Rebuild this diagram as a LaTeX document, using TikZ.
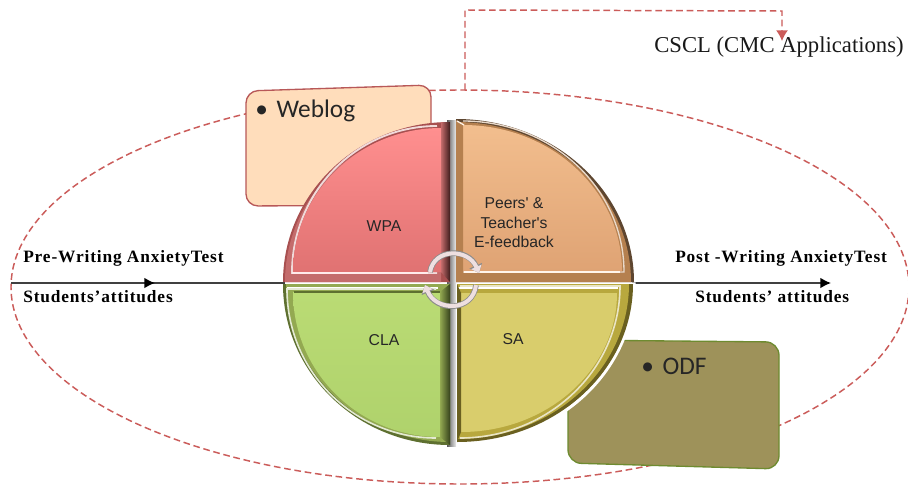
\documentclass[tikz,border=0pt]{standalone}
\usepackage{fontspec}
\setmainfont{Liberation Serif}
\newfontfamily\notef[LetterSpace=5]{Liberation Serif}
\newfontfamily\sansf{Liberation Sans}
\newfontfamily\calibri{Carlito}
\usetikzlibrary{arrows.meta,calc}
\definecolor{dashred}{HTML}{CB5C5A}
\definecolor{webfill}{HTML}{FFDDBB}
\definecolor{webedge}{HTML}{B85858}
\definecolor{odffill}{HTML}{9E925A}
\definecolor{odfedge}{HTML}{6E8B30}
\definecolor{rotfill}{HTML}{EEDFE0}
\definecolor{wpaouter}{HTML}{A85050}
\definecolor{wparim}{HTML}{C46C6C}
\definecolor{wpatop}{HTML}{FF8F8F}
\definecolor{wpabot}{HTML}{E07272}
\definecolor{wpadark}{HTML}{3E1C1C}
\definecolor{peerouter}{HTML}{5E4630}
\definecolor{peerrim}{HTML}{B5804F}
\definecolor{peertop}{HTML}{F2BE8E}
\definecolor{peerbot}{HTML}{DFA374}
\definecolor{claouter}{HTML}{5E7030}
\definecolor{clarim}{HTML}{93A951}
\definecolor{clatop}{HTML}{BADB74}
\definecolor{clabot}{HTML}{AFD26C}
\definecolor{cladark}{HTML}{36421C}
\definecolor{saouter}{HTML}{6A6020}
\definecolor{sarim}{HTML}{B8A83E}
\definecolor{saface}{HTML}{D9CD6C}
\tikzset{
 x=0.75pt,y=-0.75pt,
 dashline/.style={draw=dashred,line width=1.1pt,dash pattern=on 5pt off 2.8pt},
 note/.style={font=\notef\bfseries\fontsize{13}{15}\selectfont,inner sep=0pt,anchor=west},
 quadlabel/.style={font=\sansf\fontsize{11.8}{14.6}\selectfont,align=center,inner sep=0pt,text=black!85},
 tag/.style={font=\calibri\fontsize{19}{22}\selectfont,inner sep=0pt,anchor=west,text=black!85},
 axisline/.style={draw=black!75,line width=1.1pt},
 axisarrow/.style={axisline,-{Latex[length=8pt,width=8pt,black]}},
}
% corner x, corner y, rx, ry, sx, sy
\def\qpath#1#2#3#4#5#6{({#1},{#2}) -- ({#1+(#5)*(#3)},{#2}) .. controls ({#1+(#5)*(#3)},{#2+(#6)*0.5523*(#4)}) and ({#1+(#5)*0.5523*(#3)},{#2+(#6)*(#4)}) .. ({#1},{#2+(#6)*(#4)}) -- cycle}
\def\qarc#1#2#3#4#5#6{({#1},{#2}) -- ({#1+(#5)*(#3)},{#2}) .. controls ({#1+(#5)*(#3)},{#2+(#6)*0.5523*(#4)}) and ({#1+(#5)*0.5523*(#3)},{#2+(#6)*(#4)}) .. ({#1},{#2+(#6)*(#4)})}
\begin{document}
\begin{tikzpicture}
\useasboundingbox (0,0) rectangle (908,486);
\fill[white] (0,0) rectangle (908,486);
% dashed ellipse and connector
\draw[dashline] (460,287) ellipse[x radius=449*0.75pt,y radius=197*0.75pt];
\coordinate (top) at (465,90);
\coordinate (cornerA) at (465,10);
\coordinate (cornerB) at (782,11);
\coordinate (arrowend) at (782,41);
\draw[dashline,-{Latex[length=8pt,width=9pt,dashred]}] (top) -- (cornerA) -- (cornerB) -- (arrowend);
% label boxes
\draw[draw=webedge,line width=1pt,fill=webfill,rounded corners=9pt] (246,91) -- (431,85) -- (431,205) -- (246,206) -- cycle;
\draw[draw=odfedge,line width=1pt,fill=odffill,rounded corners=10pt] (568,340) -- (779,342) -- (779,469) -- (568,463) -- cycle;
% axis
\coordinate (leftstart) at (11,283);
\coordinate (leftmid) at (155,283);
\coordinate (leftend) at (285,283);
\coordinate (rightstart) at (632,283);
\coordinate (rightend) at (831,283);
\draw[axisline] (leftstart) -- (leftend);
\draw[axisarrow] (leftstart) -- (leftmid);
\draw[axisarrow] (rightstart) -- (rightend);
% centre gap
\shade[left color=black!65,right color=white!92!black] (447,120) rectangle (456,446);
% halo under the disc
\draw[white,line width=2.5pt] \qarc{457}{284}{177}{160}{1}{1};
% ---- WPA
\fill[wpaouter] \qpath{450}{282}{167}{160}{-1}{-1};
\fill[wparim] \qpath{441}{282}{156}{153}{-1}{-1};
\draw[white!75!wparim,line width=1.4pt] \qarc{437}{273}{145}{147}{-1}{-1};
\shade[top color=wpatop,bottom color=wpabot] \qpath{441}{272}{148}{144}{-1}{-1};
\shade[left color=wparim,right color=wpadark] (441,122) -- (450,122) -- (450,282) -- (441,272) -- cycle;
\draw[white!92!red,line width=1.2pt] (292,273) -- (428,273);
% ---- Peers
\fill[peerouter] \qpath{456}{282}{178}{163}{1}{-1};
\fill[peerrim] \qpath{456}{282}{175}{160}{1}{-1};
\draw[white!70!peerrim,line width=1pt] \qarc{463}{272}{161}{151}{1}{-1};
\shade[top color=peertop,bottom color=peerbot] \qpath{463}{271}{159}{146}{1}{-1};
\fill[peerrim] (456,120) -- (463,125) -- (463,271) -- (456,282) -- cycle;
\draw[white!92!orange,line width=1.2pt] (464,272) -- (620,272);
\draw[white!90!orange,line width=1pt] (457,121) -- (464,125);
% ---- CLA
\fill[claouter] \qpath{450}{284}{167}{161}{-1}{1};
\fill[clarim] \qpath{450}{284}{164}{158}{-1}{1};
\draw[white,line width=1pt] (287,288) -- (438,288);
\draw[white!75!clarim,line width=1.2pt] \qarc{436}{289}{149}{149}{-1}{1};
\shade[top color=clatop,bottom color=clabot] \qpath{440}{292}{147}{145}{-1}{1};
\shade[left color=clarim,right color=cladark] (440,292) -- (450,284) -- (450,445) -- (440,437) -- cycle;
\draw[claouter,line width=1pt] (294,292) -- (440,292);
% ---- SA
\fill[saouter] \qpath{457}{284}{176}{158}{1}{1};
\fill[sarim] \qpath{457}{284}{172}{155}{1}{1};
\draw[white,line width=1pt] (458,288) -- (618,288);
\draw[white!70!sarim,line width=1.2pt] \qarc{460}{286}{160}{152}{1}{1};
\fill[saface] \qpath{461}{293}{156}{139}{1}{1};
\fill[saouter] (457,284) -- (461,293) -- (461,432) -- (457,442) -- cycle;
% text
\node[quadlabel] (wpa) at (384,226) {WPA};
\node[quadlabel] (peers) at (514,223) {Peers' \&\\Teacher's\\E-feedback};
\node[quadlabel] (cla) at (384,340) {CLA};
\node[quadlabel] (sa) at (513,339) {SA};
\node[note] (pre) at (23,258) {Pre-Writing AnxietyTest};
\node[note] (stu1) at (23,297) {Students’attitudes};
\node[note] (post) at (675,258) {Post -Writing AnxietyTest};
\node[note] (stu2) at (695,297) {Students’ attitudes};
\node[font=\fontsize{17}{20}\selectfont,inner sep=0pt,text=black!90] (cscl) at (779,47) {CSCL (CMC Applications)};
\node[tag] (weblog) at (255,111) {•\hspace{6.5pt}Weblog};
\node[tag] (odf) at (641,366) {•\hspace{6.5pt}ODF};
% rotation arrows
\coordinate (rotA) at (430,272);
\coordinate (rotB) at (479,273);
\coordinate (rotC) at (476,285);
\coordinate (rotD) at (425,285);
\draw[black!45,line width=4.2pt,-{Triangle[length=6pt,width=10pt]}] (rotA) .. controls (434,248) and (468,248) .. (rotB);
\draw[rotfill,line width=3pt,-{Triangle[length=5pt,width=8pt]}] (rotA) .. controls (434,248) and (468,248) .. (rotB);
\draw[black!45,line width=4.2pt,-{Triangle[length=6pt,width=10pt]}] (rotC) .. controls (473,312) and (436,312) .. (rotD);
\draw[rotfill,line width=3pt,-{Triangle[length=5pt,width=8pt]}] (rotC) .. controls (473,312) and (436,312) .. (rotD);
\end{tikzpicture}
\end{document}
